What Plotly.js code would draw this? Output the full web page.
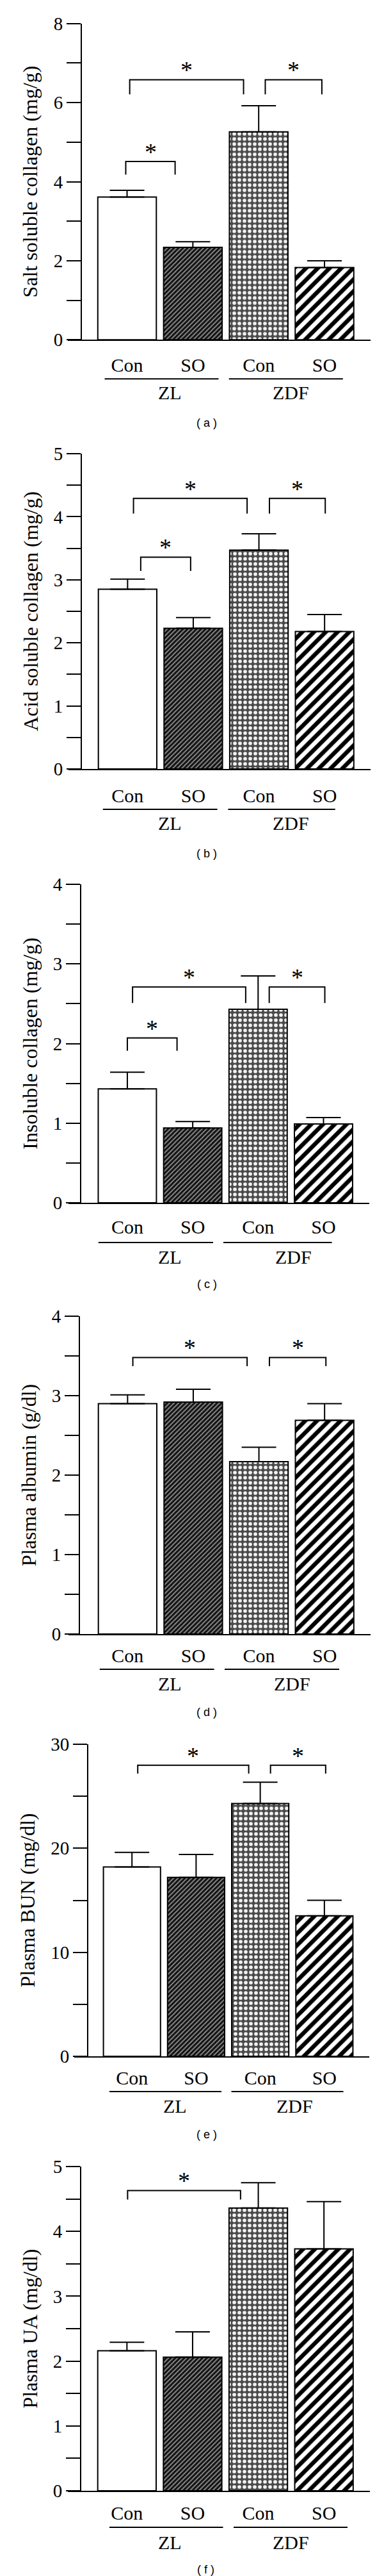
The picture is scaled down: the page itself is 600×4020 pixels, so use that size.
<!DOCTYPE html>
<html>
<head>
<meta charset="utf-8">
<script src="https://cdn.plot.ly/plotly-3.0.1.min.js"></script>
<style>
html, body { margin: 0; padding: 0; background: #ffffff; }
#chart { width: 600px; height: 4020px; }
</style>
</head>
<body>
<div id="chart"></div>
<script>
// ---------------- data ----------------
const categories = ['Con', 'SO', 'Con', 'SO'];
const groupNames = ['ZL', 'ZDF'];
const panelLetters = ['a', 'b', 'c', 'd', 'e', 'f'];
const yTitles = [
  'Salt soluble collagen (mg/g)',
  'Acid soluble collagen (mg/g)',
  'Insoluble collagen (mg/g)',
  'Plasma albumin (g/dl)',
  'Plasma BUN (mg/dl)',
  'Plasma UA (mg/dl)'
];

const saltSoluble    = [3.61, 2.34, 5.26, 1.83];
const saltSolubleErr = [0.17, 0.14, 0.66, 0.17];
const acidSoluble    = [2.85, 2.23, 3.47, 2.18];
const acidSolubleErr = [0.16, 0.17, 0.26, 0.27];
const insoluble      = [1.43, 0.94, 2.43, 0.99];
const insolubleErr   = [0.21, 0.08, 0.42, 0.08];
const albumin        = [2.90, 2.92, 2.17, 2.69];
const albuminErr     = [0.11, 0.16, 0.18, 0.21];
const bun            = [18.2, 17.2, 24.3, 13.5];
const bunErr         = [1.4, 2.2, 2.05, 1.5];
const uricAcid       = [2.16, 2.06, 4.36, 3.73];
const uricAcidErr    = [0.13, 0.39, 0.39, 0.73];

const yMax       = [8, 5, 4, 4, 30, 5];
const yLabelStep = [2, 1, 1, 1, 10, 1];
const yTickStep  = [1, 0.5, 0.5, 0.5, 5, 0.5];

// significance brackets: [from (category pos), to (category pos), bar top y, leg end y]
const sigA = [[0.04, 1.77, 6.58, 6.21], [2.10, 2.96, 6.58, 6.21], [-0.02, 0.73, 4.51, 4.18]];
const sigB = [[0.09, 1.82, 4.29, 4.05], [2.16, 3.01, 4.29, 4.05], [0.20, 0.96, 3.36, 3.14]];
const sigC = [[0.08, 1.81, 2.71, 2.51], [2.17, 3.02, 2.71, 2.51], [0.00, 0.76, 2.07, 1.91]];
const sigD = [[0.08, 1.82, 3.48, 3.37], [2.16, 3.02, 3.48, 3.37]];
const sigE = [[0.09, 1.82, 27.98, 27.18], [2.16, 3.02, 27.98, 27.18]];
const sigF = [[0.01, 1.73, 4.63, 4.49]];

const panelValues = [saltSoluble, acidSoluble, insoluble, albumin, bun, uricAcid];
const panelErrors = [saltSolubleErr, acidSolubleErr, insolubleErr, albuminErr, bunErr, uricAcidErr];
const panelSig    = [sigA, sigB, sigC, sigD, sigE, sigF];

// ---------------- layout geometry (pixels) ----------------
const W = 600, H = 4020;
const panelTopPx    = [36.8, 708, 1380, 2054, 2722, 3381];
const panelBottomPx = [530.3, 1200, 1877, 2550, 3209, 3887];
const yAxisPx  = [127, 127, 126, 124, 137, 126];
const xStartPx = [106, 107, 107, 107, 116, 106];
const xEndPx   = [579, 579, 577, 579, 577, 578];
const xRange   = [-0.9, 3.7];
const groupLineOffset = [61, 63, 62, 55, 55, 57];
const groupTextOffset = [82, 84, 84, 77, 77, 80];
const letterOffset    = [130, 132, 127, 122, 122, 123];
const tickLabelStandoff = [12, 14, 10, 6, 6, 7];
const groupLinePx = [
  [[163.5, 341.5], [357.7, 535.8]],
  [[160.8, 339.6], [356.5, 523.8]],
  [[153.8, 333.0], [349.0, 518.5]],
  [[155.8, 334.6], [351.0, 530.0]],
  [[171.0, 346.0], [361.5, 536.5]],
  [[171.0, 348.5], [365.0, 543.0]]
];
const groupTextPx = [[265, 454], [265, 454], [265, 458], [265, 456], [273, 460], [265, 454]];
const letterPx = [323, 323, 323, 323, 323, 321];
const titleStandoff = [14, 14, 14, 14, 14, 14];

const serif = 'Liberation Serif, Times New Roman, serif';
const sans = 'Liberation Sans, Arial, sans-serif';

// bar fill styles
const patternStyle = {
  shape:    ['', '/', '.', '/'],
  bgcolor:  ['#ffffff', '#8c8c8c', '#4a4a4a', '#ffffff'],
  fgcolor:  ['#ffffff', '#121212', '#f2f2f2', '#000000'],
  size:     [8, 5, 8, 13],
  solidity: [0.5, 0.62, 0.4, 0.5],
  fillmode: 'replace'
};

const traces = [];
const layout = {
  width: W, height: H,
  margin: {l: 0, r: 0, t: 0, b: 0, pad: 0},
  paper_bgcolor: '#ffffff',
  plot_bgcolor: 'rgba(0,0,0,0)',
  showlegend: false,
  bargap: 0.11,
  shapes: [],
  annotations: [],
  font: {family: serif, color: '#000'}
};

const xPositions = categories.map((c, i) => i);

for (let p = 0; p < 6; p++) {
  const sfx = p === 0 ? '' : String(p + 1);
  const xName = 'x' + sfx, yName = 'y' + sfx;
  const zeroErr = panelErrors[p].map(() => 0);

  traces.push({
    type: 'bar',
    x: xPositions,
    y: panelValues[p],
    xaxis: xName, yaxis: yName,
    marker: {color: '#ffffff', line: {color: '#000000', width: 2}, pattern: patternStyle},
    error_y: {type: 'data', symmetric: false, array: panelErrors[p], arrayminus: zeroErr,
              color: '#000000', thickness: 2, width: 27},
    hoverinfo: 'skip'
  });

  const yDom = [1 - panelBottomPx[p] / H, 1 - panelTopPx[p] / H];
  layout['xaxis' + sfx] = {
    domain: [xStartPx[p] / W, xEndPx[p] / W],
    anchor: yName,
    range: xRange,
    showline: true, linewidth: 2, linecolor: '#000',
    ticks: '', showgrid: false, zeroline: false,
    tickmode: 'array', tickvals: xPositions, ticktext: categories,
    tickfont: {family: serif, size: 30, color: '#000'},
    ticklabelstandoff: tickLabelStandoff[p],
    fixedrange: true
  };
  layout['yaxis' + sfx] = {
    domain: yDom,
    anchor: 'free',
    position: yAxisPx[p] / W,
    range: [0, yMax[p]],
    showline: true, linewidth: 2, linecolor: '#000',
    ticks: 'outside', ticklen: 22, tickwidth: 2, tickcolor: '#000',
    tick0: 0, dtick: yLabelStep[p],
    minor: {dtick: yTickStep[p], ticks: 'outside', ticklen: 22, tickwidth: 2, tickcolor: '#000', showgrid: false},
    showgrid: false, zeroline: false,
    tickfont: {family: serif, size: 29, color: '#000'},
    title: {text: yTitles[p], font: {family: serif, size: 32, color: '#000'}, standoff: titleStandoff[p]},
    fixedrange: true
  };

  // significance brackets and stars
  panelSig[p].forEach(b => {
    const [x0, x1, yt, yl] = b;
    layout.shapes.push({
      type: 'path', xref: xName, yref: yName,
      path: `M ${x0},${yl} L ${x0},${yt} L ${x1},${yt} L ${x1},${yl}`,
      line: {color: '#000', width: 2}
    });
    layout.annotations.push({
      xref: xName, yref: yName, x: (x0 + x1) / 2, y: yt,
      text: '*', showarrow: false, yanchor: 'bottom', yshift: -8,
      font: {family: serif, size: 38, color: '#000'}
    });
  });

  // group lines and labels
  const axisY = panelBottomPx[p];
  groupNames.forEach((g, gi) => {
    const span = groupLinePx[p][gi];
    const ly = 1 - (axisY + groupLineOffset[p]) / H;
    layout.shapes.push({
      type: 'line', xref: 'paper', yref: 'paper',
      x0: span[0] / W, x1: span[1] / W, y0: ly, y1: ly,
      line: {color: '#000', width: 2}
    });
    layout.annotations.push({
      xref: 'paper', yref: 'paper',
      x: groupTextPx[p][gi] / W, y: 1 - (axisY + groupTextOffset[p]) / H,
      xanchor: 'center', yanchor: 'middle', showarrow: false,
      text: g, font: {family: serif, size: 30, color: '#000'}
    });
  });

  layout.annotations.push({
    xref: 'paper', yref: 'paper',
    x: letterPx[p] / W, y: 1 - (axisY + letterOffset[p]) / H,
    xanchor: 'center', yanchor: 'middle', showarrow: false,
    text: '( ' + panelLetters[p] + ' )', font: {family: sans, size: 18, color: '#000'}
  });
}

Plotly.newPlot('chart', traces, layout, {displayModeBar: false, staticPlot: true});
</script>
</body>
</html>
